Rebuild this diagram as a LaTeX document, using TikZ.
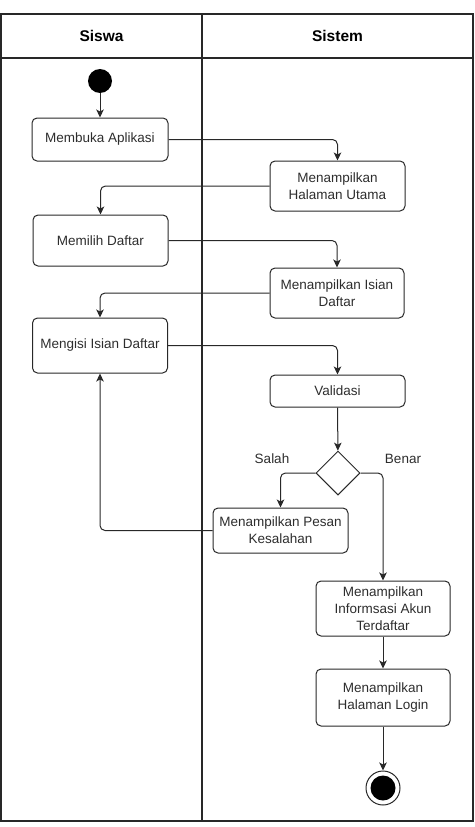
\documentclass[tikz,border=0pt]{standalone}
\usepackage{fontspec}
\setmainfont{Liberation Sans}
\usepackage{xcolor}
\usetikzlibrary{arrows.meta,shapes.geometric}
\definecolor{linegray}{RGB}{40,40,40}
\definecolor{textgray}{RGB}{45,45,45}
\begin{document}
\begin{tikzpicture}[x=1pt,y=-1pt,act/.style={draw=linegray,line width=1pt,rectangle,rounded corners=5pt,align=center,inner sep=2pt,font=\fontsize{13.5}{17}\selectfont,text=textgray},lane/.style={draw=linegray,line width=1.2pt},head/.style={font=\fontsize{15.5}{18}\selectfont\bfseries,text=black},arrow/.style={-{Stealth[length=8pt,width=7.5pt,inset=2pt]},line width=1pt,draw=linegray,rounded corners=5pt},lbl/.style={font=\fontsize{13.5}{17}\selectfont,text=textgray}]
\useasboundingbox (0,0) rectangle (474,827);
% swimlanes
\draw[lane] (1,14) rectangle (473,821);
\draw[lane] (1,58) -- (473,58);
\draw[lane] (202,14) -- (202,821);
\node[head] (hsiswa) at (101.5,36) {Siswa};
\node[head] (hsistem) at (337.5,36) {Sistem};
% activities
\node[circle,fill=black,minimum size=24pt,inner sep=0pt] (start) at (100,81) {};
\node[act,minimum width=136pt,minimum height=43pt] (a1) at (100,139.5) {Membuka Aplikasi};
\node[act,minimum width=135pt,minimum height=50pt] (s1) at (337.5,186) {Menampilkan\\Halaman Utama};
\node[act,minimum width=135pt,minimum height=51pt] (a2) at (100.5,240.5) {Memilih Daftar};
\node[act,minimum width=134pt,minimum height=50pt] (s2) at (337,293) {Menampilkan Isian\\Daftar};
\node[act,minimum width=135pt,minimum height=55pt] (a3) at (100,345.5) {Mengisi Isian Daftar};
\node[act,minimum width=135pt,minimum height=32pt] (s3) at (337.5,391) {Validasi};
\node[draw=linegray,line width=1pt,diamond,minimum width=44pt,minimum height=44pt,inner sep=0pt] (dec) at (338,473) {};
\node[act,minimum width=135pt,minimum height=45pt] (s4) at (280.5,530.5) {Menampilkan Pesan\\Kesalahan};
\node[act,minimum width=134pt,minimum height=55pt] (s5) at (383,608.5) {Menampilkan\\Informsasi Akun\\Terdaftar};
\node[act,minimum width=134pt,minimum height=57pt] (s6) at (383,697.5) {Menampilkan\\Halaman Login};
\node[circle,draw=linegray,line width=1pt,minimum size=34pt,inner sep=0pt] (end) at (383,788) {};
\node[circle,fill=black,minimum size=25pt,inner sep=0pt] (endin) at (end) {};
\node[lbl] (salah) at (272,459) {Salah};
\node[lbl] (benar) at (403,459) {Benar};
% flows
\draw[arrow] (start)--(a1); \draw[arrow] (a1.east)-|(s1.north); \draw[arrow] (s1.west)-|(a2.north);
\draw[arrow] (a2.east)-|(s2.north); \draw[arrow] (s2.west)-|(a3.north); \draw[arrow] (a3.east)-|(s3.north);
\draw[arrow] (s3)--(dec); \draw[arrow] (dec.west)-|(s4.north); \draw[arrow] (s4.west)-|(a3.south);
\draw[arrow] (dec.east)-|(s5.north); \draw[arrow] (s5)--(s6); \draw[arrow] (s6)--(end);
\end{tikzpicture}
\end{document}
